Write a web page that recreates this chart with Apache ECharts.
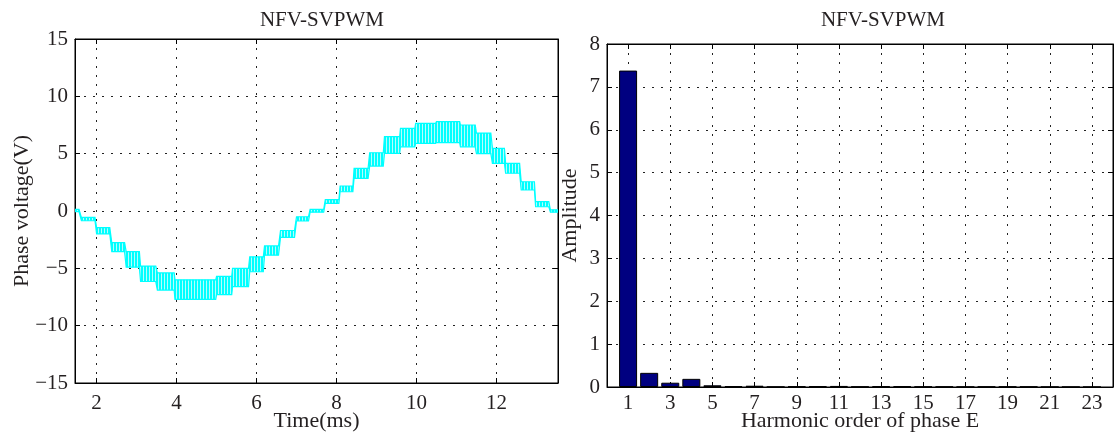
<!DOCTYPE html>
<html>
<head>
<meta charset="utf-8">
<script src="https://cdn.jsdelivr.net/npm/echarts@6/dist/echarts.min.js"></script>
<style>
html,body{margin:0;padding:0;background:#fff;}
#c{width:1114px;height:434px;}
</style>
</head>
<body>
<div id="c"></div>
<script>
// ---- Left panel: phase voltage waveform, read per PWM step (time in ms, envelope in V)
const stepStart = [1.46,1.62,2.00,2.38,2.74,3.10,3.52,3.96,5.00,5.40,5.83,6.20,6.60,7.00,7.34,7.72,8.09,8.44,8.83,9.20,9.60,9.98,10.50,11.10,11.50,11.90,12.23,12.62,12.98,13.35];
const stepEnd   = [1.56,1.96,2.33,2.70,3.07,3.48,3.94,4.98,5.38,5.80,6.17,6.55,6.95,7.30,7.68,8.06,8.41,8.79,9.17,9.58,9.96,10.48,11.08,11.47,11.86,12.20,12.58,12.95,13.31,13.54];
const stepHigh  = [0.15,-0.55,-1.45,-2.75,-3.55,-4.8,-5.4,-6.0,-5.7,-5.0,-4.0,-3.05,-1.7,-0.5,0.15,1.0,2.18,3.72,5.08,6.48,7.2,7.65,7.8,7.5,6.8,5.47,4.16,2.55,0.81,0.1];
const stepLow   = [-0.05,-0.85,-2.0,-3.55,-4.9,-6.15,-6.9,-7.7,-7.3,-6.6,-5.3,-3.85,-2.3,-0.87,-0.1,0.67,1.68,2.85,3.92,5.03,5.6,5.9,5.96,5.6,5.0,4.16,3.29,1.83,0.37,-0.1];

// ---- Right panel: harmonic spectrum
const harmonicCategories = ['0','1','2','3','4','5','6','7','8','9','10','11','12','13','14','15','16','17','18','19','20','21','22','23','24'];
const amplitude = [null,7.38,0.33,0.10,0.19,0.04,0.02,0.03,0.005,0.015,0.02,0.025,0.01,0.02,0.02,0.01,0.01,0.005,0.01,0.01,0.01,0.003,0.003,0.002,null];

const titleText = 'NFV-SVPWM';
const leftXName = 'Time(ms)';
const leftYName = 'Phase voltage(V)';
const rightXName = 'Harmonic order of phase E';
const rightYName = 'Amplitude';

const FONT = 'Liberation Serif';
const TXT = '#231f20';
const gridLine = {show:true, lineStyle:{color:'#222', type:[2,7], width:1}};
const oddOnly = (i) => i % 2 === 1;

// envelope polygon points (upper forward, lower backward)
const upper = [], lower = [];
for (let i = 0; i < stepStart.length; i++) {
  upper.push([stepStart[i], stepHigh[i]], [stepEnd[i], stepHigh[i]]);
  lower.push([stepStart[i], stepLow[i]], [stepEnd[i], stepLow[i]]);
}
const bandPts = upper.concat(lower.slice().reverse());

// vertical-stripe texture for the PWM ripple band
const pc = document.createElement('canvas');
pc.width = 3; pc.height = 4;
const pctx = pc.getContext('2d');
pctx.fillStyle = '#00FFFF'; pctx.fillRect(0,0,3,4);
pctx.fillStyle = '#b5fdfd'; pctx.fillRect(2,0,1,4);

const chart = echarts.init(document.getElementById('c'), null, {renderer:'canvas'});

const axisCommon = {
  axisLine:{show:true, onZero:false, lineStyle:{color:'#000', width:1}},
  axisTick:{show:true, inside:true, length:5, lineStyle:{color:'#000'}},
  axisLabel:{color:TXT, fontFamily:FONT, fontSize:21},
  nameTextStyle:{color:TXT, fontFamily:FONT, fontSize:22},
  nameMoveOverlap:false
};

chart.setOption({
  animation:false,
  backgroundColor:'#fff',
  title:[
    {text:titleText, left:317, top:5, textAlign:'center', textStyle:{fontFamily:FONT, fontSize:21, fontWeight:'normal', color:TXT}},
    {text:titleText, left:878, top:5, textAlign:'center', textStyle:{fontFamily:FONT, fontSize:21, fontWeight:'normal', color:TXT}}
  ],
  grid:[
    {left:75, top:39, width:483, height:344, show:true, borderColor:'#000', borderWidth:1, backgroundColor:'#fff', outerBoundsMode:'none', containLabel:false},
    {left:607, top:44, width:506, height:343, show:true, borderColor:'#000', borderWidth:1, backgroundColor:'#fff', outerBoundsMode:'none', containLabel:false}
  ],
  xAxis:[
    Object.assign({}, axisCommon, {type:'value', gridIndex:0, min:1.46, max:13.54, position:'bottom',
      name:leftXName, nameLocation:'middle', nameGap:27,
      axisLabel:Object.assign({}, axisCommon.axisLabel, {showMinLabel:false, showMaxLabel:false, margin:10}),
      splitLine:gridLine}),
    Object.assign({}, axisCommon, {type:'value', gridIndex:0, min:1.46, max:13.54, position:'top',
      axisLabel:{show:false}, splitLine:{show:false}}),
    Object.assign({}, axisCommon, {type:'category', gridIndex:1, data:harmonicCategories, boundaryGap:false, position:'bottom',
      name:rightXName, nameLocation:'middle', nameGap:23,
      axisTick:Object.assign({}, axisCommon.axisTick, {interval:oddOnly}),
      axisLabel:Object.assign({}, axisCommon.axisLabel, {interval:oddOnly, margin:6}),
      splitLine:Object.assign({}, gridLine, {interval:oddOnly})}),
    Object.assign({}, axisCommon, {type:'category', gridIndex:1, data:harmonicCategories, boundaryGap:false, position:'top',
      axisTick:Object.assign({}, axisCommon.axisTick, {interval:oddOnly}),
      axisLabel:{show:false}, splitLine:{show:false}})
  ],
  yAxis:[
    Object.assign({}, axisCommon, {type:'value', gridIndex:0, min:-15, max:15, interval:5, position:'left',
      name:leftYName, nameLocation:'middle', nameGap:42,
      axisLabel:Object.assign({}, axisCommon.axisLabel, {margin:7, formatter:(v)=> v<0 ? '\u2212'+(-v) : String(v)}),
      splitLine:gridLine}),
    Object.assign({}, axisCommon, {type:'value', gridIndex:0, min:-15, max:15, interval:5, position:'right',
      axisLabel:{show:false}, splitLine:{show:false}}),
    Object.assign({}, axisCommon, {type:'value', gridIndex:1, min:0, max:8, interval:1, position:'left',
      name:rightYName, nameLocation:'middle', nameGap:26,
      axisLabel:Object.assign({}, axisCommon.axisLabel, {margin:7}),
      splitLine:gridLine}),
    Object.assign({}, axisCommon, {type:'value', gridIndex:1, min:0, max:8, interval:1, position:'right',
      axisLabel:{show:false}, splitLine:{show:false}})
  ],
  series:[
    {
      type:'custom', xAxisIndex:0, yAxisIndex:0, clip:true,
      data:[0],
      renderItem:function(params, api){
        const pts = bandPts.map(p => api.coord(p));
        return {type:'polygon', shape:{points:pts},
          style:{fill:{image:pc, repeat:'repeat'}, stroke:'#00FFFF', lineWidth:1.2}};
      }
    },
    {
      type:'bar', xAxisIndex:2, yAxisIndex:2, data:amplitude, barWidth:18,
      itemStyle:{color:'#000080', borderColor:'#000', borderWidth:1}
    }
  ]
});
</script>
</body>
</html>
